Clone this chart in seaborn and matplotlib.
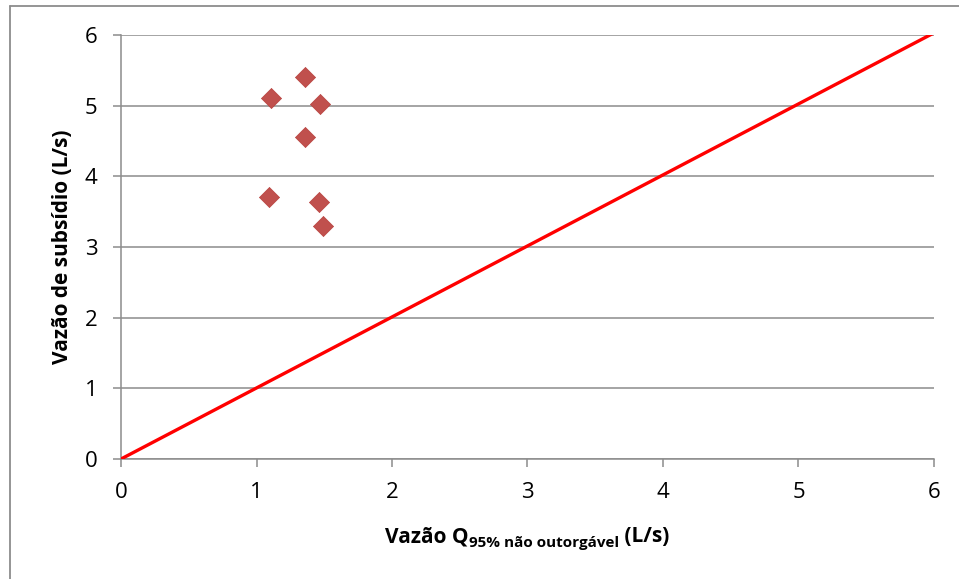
import matplotlib
matplotlib.use("Agg")
import matplotlib.pyplot as plt
import seaborn as sns
import pandas as pd
from matplotlib.lines import Line2D

# data
q95_nao_outorgavel = [1.11, 1.36, 1.47, 1.36, 1.09, 1.46, 1.49]
vazao_subsidio = [5.11, 5.41, 5.02, 4.56, 3.71, 3.64, 3.30]
ref_line_x = [0, 6]
ref_line_y = [0, 6.03]
ticks = [0, 1, 2, 3, 4, 5, 6]

sns.set_theme(style="white")
plt.rcParams['font.family'] = ['Open Sans', 'DejaVu Sans']

df = pd.DataFrame({"x": q95_nao_outorgavel, "y": vazao_subsidio})

fig = plt.figure(figsize=(9.59, 5.79), dpi=100)
ax = fig.add_axes([121/959, 1-459/579, (934-121)/959, (459-35)/579])

ax.set_xlim(0, 6)
ax.set_ylim(0, 6)
ax.set_xticks(ticks)
ax.set_yticks(ticks)
ax.yaxis.grid(True, color="#8c8c8c", linewidth=1.1)
ax.set_axisbelow(True)

sns.lineplot(x=ref_line_x, y=ref_line_y, ax=ax, color="#ff0000", linewidth=2.4, zorder=3)
sns.scatterplot(data=df, x="x", y="y", ax=ax, marker="D", s=105, color="#c0504d",
                edgecolor="#b8403d", linewidth=0.5, zorder=4)

for side in ["top", "right"]:
    ax.spines[side].set_visible(False)
for side in ["left", "bottom"]:
    ax.spines[side].set_color("#8c8c8c")
    ax.spines[side].set_linewidth(1.1)

ax.tick_params(axis="both", which="major", direction="out", length=5.5, width=1.1,
               color="#8c8c8c", labelsize=16, labelcolor="black",
               bottom=True, left=True, top=False, right=False)
ax.tick_params(axis="x", pad=11)
ax.tick_params(axis="y", pad=11.5)
ax.set_xlabel("")
ax.set_ylabel("")

# y label
fig.text(62/959, 1-247/579, "Vazão de subsídio (L/s)", rotation=90, ha="center", va="center",
         fontsize=15, fontweight="bold", color="black")

# x label with subscript, composed from pieces
fig.canvas.draw()
renderer = fig.canvas.get_renderer()
parts = [("Vazão Q", 15, 0), ("95% não outorgável", 11, -5), (" (L/s)", 15, 0)]
texts = []
widths = []
for s, fs, dy in parts:
    t = fig.text(0, 0, s, fontsize=fs, fontweight="bold", color="black", ha="left", va="baseline")
    bb = t.get_window_extent(renderer=renderer)
    texts.append((t, dy))
    widths.append(bb.width)
total = sum(widths)
cx = 527.5
baseline = 579 - 542
xpos = cx - total / 2
for (t, dy), w in zip(texts, widths):
    t.set_position((xpos / 959, (baseline + dy) / 579))
    xpos += w

# outer frame (left and top edges visible)
fig.add_artist(Line2D([10/959, 10/959], [0, 1-6/579], transform=fig.transFigure,
                      color="#8c8c8c", linewidth=1.3))
fig.add_artist(Line2D([10/959, 1], [1-6/579, 1-6/579], transform=fig.transFigure,
                      color="#8c8c8c", linewidth=1.3))

fig.savefig("out.png", dpi=100)
